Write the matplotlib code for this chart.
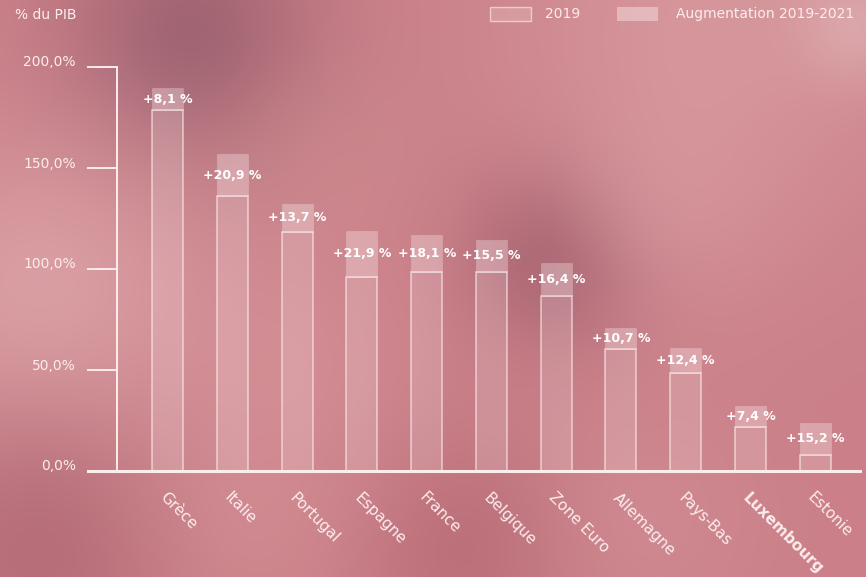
import numpy as np
import matplotlib
matplotlib.use("Agg")
import matplotlib.pyplot as plt
from matplotlib.patches import Rectangle
from matplotlib.transforms import offset_copy

# =========================
# Data
# =========================
countries = ["Grèce", "Italie", "Portugal", "Espagne", "France", "Belgique",
             "Zone Euro", "Allemagne", "Pays-Bas", "Luxembourg", "Estonie"]
debt_2019 = [178.5, 136.1, 118.5, 96.2, 98.7, 98.7, 86.8, 60.2, 48.4, 21.9, 7.8]
debt_2021 = [189.6, 156.9, 132.0, 118.8, 116.8, 114.4, 102.8, 70.9, 61.0, 32.2, 23.9]
increase_labels = [8.1, 20.9, 13.7, 21.9, 18.1, 15.5, 16.4, 10.7, 12.4, 7.4, 15.2]
y_ticks = [0, 50, 100, 150, 200]
highlight = "Luxembourg"

plt.rcParams["font.family"] = ["DejaVu Sans"]

W, H = 866, 577
fig = plt.figure(figsize=(W / 100, H / 100), dpi=100)

# =========================
# Blurred pink backdrop
# =========================
yy, xx = np.mgrid[0:H, 0:W]
bg = np.ones((H, W, 3)) * np.array([203, 128, 137])
blobs = [
    (190, 40, 90, (145, 88, 104), 0.75),
    (560, 250, 65, (145, 78, 94), 0.7),
    (40, 300, 120, (226, 176, 178), 0.65),
    (720, 20, 150, (222, 168, 170), 0.55),
    (660, 200, 80, (220, 160, 165), 0.45),
    (40, 540, 100, (165, 92, 104), 0.55),
    (470, 545, 80, (168, 90, 102), 0.45),
    (330, 150, 70, (205, 145, 145), 0.35),
    (280, 370, 90, (218, 152, 157), 0.45),
    (250, 530, 70, (215, 148, 152), 0.4),
    (640, 520, 80, (214, 150, 154), 0.4),
    (855, 25, 40, (228, 190, 190), 0.5),
]
for cx, cy, s, col, k in blobs:
    w = k * np.exp(-((xx - cx) ** 2 + (yy - cy) ** 2) / (2 * s ** 2))
    w = w[..., None]
    bg = bg * (1 - w) + np.array(col) * w

bg_ax = fig.add_axes([0, 0, 1, 1], zorder=-1)
bg_ax.imshow(bg / 255, aspect="auto")
bg_ax.axis("off")

# =========================
# Main axes
# =========================
x0_px, x1_px, ytop_px, ybot_px = 88, 860, 67, 471
ax = fig.add_axes([x0_px / W, (H - ybot_px) / H,
                   (x1_px - x0_px) / W, (ybot_px - ytop_px) / H])
ax.set_facecolor("none")
step = 64.75
xmin = -(167.7 - x0_px) / step
xmax = xmin + (x1_px - x0_px) / step
ax.set_xlim(xmin, xmax)
ax.set_ylim(0, 200)
for s in ax.spines.values():
    s.set_visible(False)
ax.set_xticks([])
ax.set_yticks([])

line_col = (0.99, 0.93, 0.93)
spine_x = xmin + (117 - x0_px) / step
ax.plot([spine_x, spine_x], [0, 200], color=line_col, lw=1.4, clip_on=False)
for v in y_ticks:
    ax.plot([xmin, spine_x], [v, v], color=line_col, lw=1.4, clip_on=False)
ax.plot([xmin, xmax], [0, 0], color=line_col, lw=2.2, clip_on=False, zorder=5)

lab_tr = offset_copy(ax.transData, fig=fig, x=-12, y=4.5, units="dots")
for v in y_ticks:
    ax.text(xmin, v, f"{v:.1f}%".replace(".", ","), transform=lab_tr,
            ha="right", va="center", color=line_col, fontsize=10)

x = np.arange(len(countries))
bw = 31 / step
inc = np.array(debt_2021) - np.array(debt_2019)
ax.bar(x, debt_2019, width=bw, color=(1, 1, 1, 0.16),
       edgecolor=(1, 0.95, 0.95, 0.6), linewidth=1.2, zorder=2)
ax.bar(x, inc, bottom=debt_2019, width=bw, color=(1, 0.95, 0.95, 0.32),
       edgecolor=(1, 1, 1, 0.15), linewidth=0.8, zorder=2)

for i, (b, d, lab) in enumerate(zip(debt_2019, inc, increase_labels)):
    ax.text(i, b + d / 2, f"+{lab:.1f} %".replace(".", ","), ha="center",
            va="center", color="white", fontsize=9, fontweight="bold", zorder=6)

name_tr = offset_copy(ax.transData, fig=fig, x=0, y=-19, units="dots")
for i, name in enumerate(countries):
    ax.text(i, 0, name, transform=name_tr, rotation=-45, rotation_mode="anchor",
            ha="left", va="top", color=line_col, fontsize=11,
            fontweight="bold" if name == highlight else "normal")

# =========================
# Header text and legend
# =========================
fig.text(15 / W, 1 - 15 / H, "% du PIB", ha="left", va="center",
         color=line_col, fontsize=10)

def legend_box(px, fc, ec):
    fig.add_artist(Rectangle((px / W, 1 - 21 / H), 41 / W, 14 / H,
                             transform=fig.transFigure, facecolor=fc,
                             edgecolor=ec, linewidth=1))

legend_box(490, (1, 1, 1, 0.16), (1, 0.95, 0.95, 0.6))
fig.text(545 / W, 1 - 14 / H, "2019", ha="left", va="center",
         color=line_col, fontsize=10)
legend_box(617, (1, 0.95, 0.95, 0.4), "none")
fig.text(676 / W, 1 - 14 / H, "Augmentation 2019-2021", ha="left",
         va="center", color=line_col, fontsize=10)

fig.savefig("out.png", dpi=100)
